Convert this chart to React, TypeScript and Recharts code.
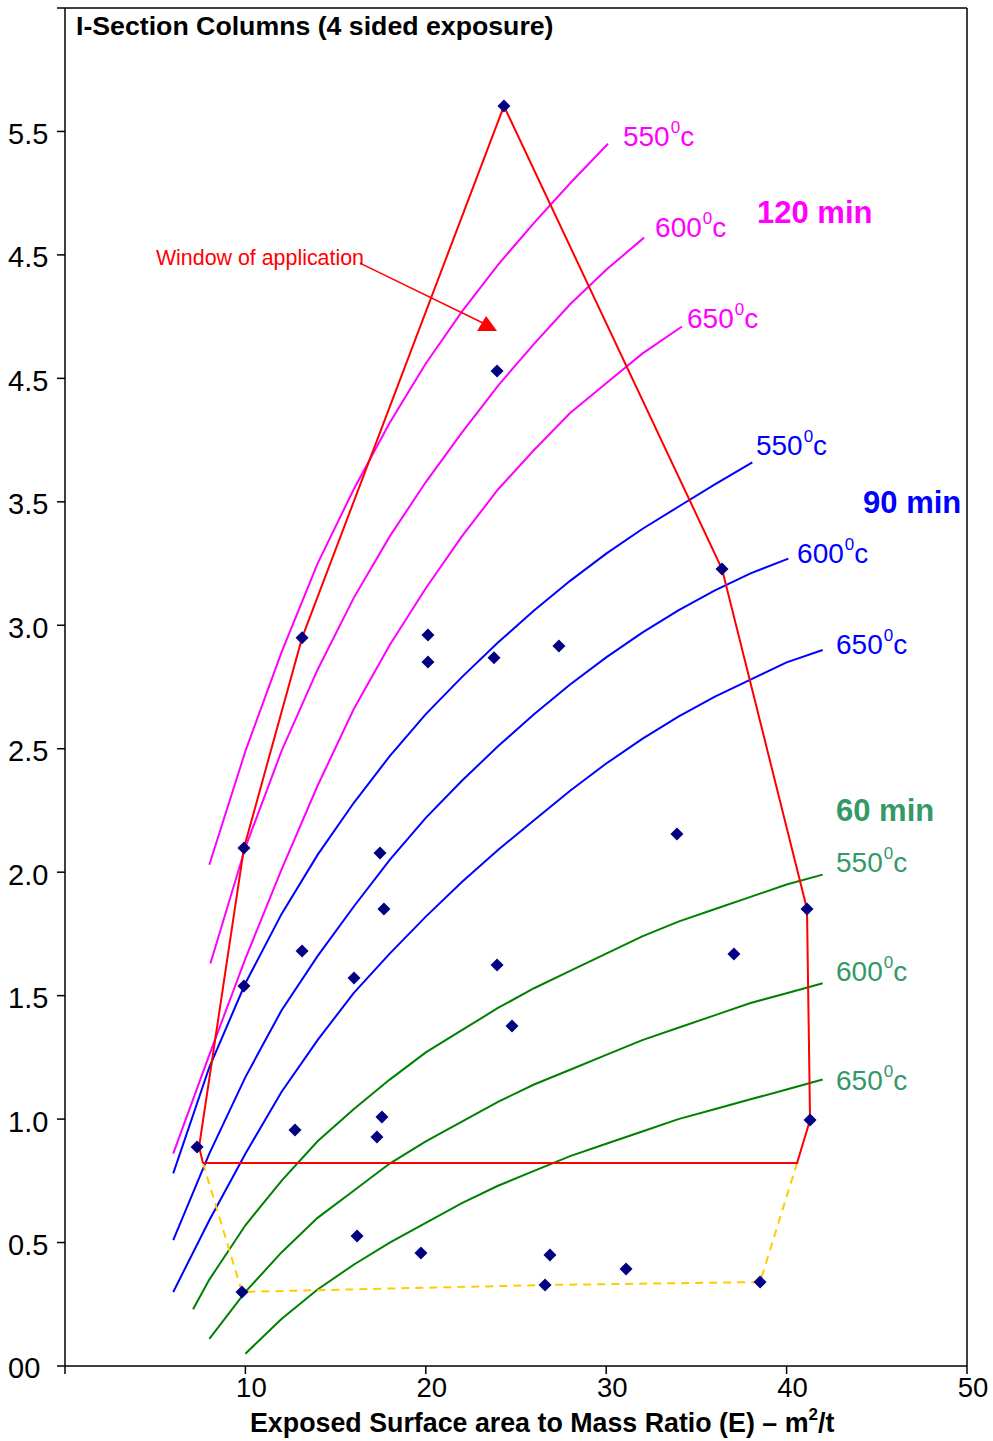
import React from 'react';
import { ScatterChart, Scatter, XAxis, YAxis, ReferenceLine } from 'recharts';

type Pt = { x: number; y: number };

// measured columns (navy diamonds)
const testPoints: Pt[] = [
  { x: 7.32, y: 0.887 }, { x: 9.92, y: 2.098 }, { x: 9.92, y: 1.539 }, { x: 9.81, y: 0.3 },
  { x: 13.14, y: 2.949 }, { x: 13.14, y: 1.681 }, { x: 12.75, y: 0.956 }, { x: 16.19, y: 0.527 },
  { x: 16.02, y: 1.571 }, { x: 17.46, y: 2.078 }, { x: 17.68, y: 1.851 }, { x: 17.57, y: 1.008 },
  { x: 17.29, y: 0.927 }, { x: 19.73, y: 0.458 }, { x: 20.12, y: 2.961 }, { x: 20.12, y: 2.851 },
  { x: 23.78, y: 2.868 }, { x: 24.33, y: 5.103 }, { x: 23.95, y: 4.03 }, { x: 23.95, y: 1.624 },
  { x: 24.78, y: 1.377 }, { x: 27.38, y: 2.916 }, { x: 26.88, y: 0.45 }, { x: 26.61, y: 0.328 },
  { x: 31.1, y: 0.393 }, { x: 33.92, y: 2.155 }, { x: 36.42, y: 3.228 }, { x: 37.08, y: 1.669 },
  { x: 38.53, y: 0.34 }, { x: 41.13, y: 1.851 }, { x: 41.3, y: 0.996 },
];

// window of application (closed outline)
const windowOutline: Pt[] = [
  { x: 7.65, y: 0.822 }, { x: 7.43, y: 0.887 }, { x: 9.92, y: 2.098 }, { x: 13.14, y: 2.949 },
  { x: 24.33, y: 5.103 }, { x: 36.42, y: 3.228 }, { x: 41.13, y: 1.851 }, { x: 41.3, y: 0.996 },
  { x: 40.58, y: 0.822 }, { x: 7.65, y: 0.822 },
];

const lowerBound: Pt[] = [
  { x: 7.65, y: 0.822 }, { x: 9.81, y: 0.3 }, { x: 26.61, y: 0.328 }, { x: 38.53, y: 0.34 }, { x: 40.58, y: 0.822 },
];

// 120 min curves
const m550: Pt[] = [
  { x: 8, y: 2.03 }, { x: 10, y: 2.49 }, { x: 12, y: 2.89 }, { x: 14, y: 3.25 }, { x: 16, y: 3.55 },
  { x: 18, y: 3.82 }, { x: 20, y: 4.06 }, { x: 22, y: 4.27 }, { x: 24, y: 4.46 }, { x: 26, y: 4.63 },
  { x: 28, y: 4.79 }, { x: 30.1, y: 4.95 },
];
const m600: Pt[] = [
  { x: 8.06, y: 1.63 }, { x: 10, y: 2.1 }, { x: 12, y: 2.49 }, { x: 14, y: 2.82 }, { x: 16, y: 3.11 },
  { x: 18, y: 3.36 }, { x: 20, y: 3.58 }, { x: 22, y: 3.78 }, { x: 24, y: 3.97 }, { x: 26, y: 4.14 },
  { x: 28, y: 4.3 }, { x: 30, y: 4.44 }, { x: 32.1, y: 4.57 },
];
const m650: Pt[] = [
  { x: 6, y: 0.86 }, { x: 8, y: 1.26 }, { x: 10, y: 1.65 }, { x: 12, y: 2.01 }, { x: 14, y: 2.35 },
  { x: 16, y: 2.66 }, { x: 18, y: 2.92 }, { x: 20, y: 3.15 }, { x: 22, y: 3.36 }, { x: 24, y: 3.55 },
  { x: 26, y: 3.71 }, { x: 28, y: 3.86 }, { x: 30, y: 3.98 }, { x: 32, y: 4.1 }, { x: 34.2, y: 4.21 },
];

// 90 min curves
const b550: Pt[] = [
  { x: 6, y: 0.78 }, { x: 8, y: 1.21 }, { x: 10, y: 1.55 }, { x: 12, y: 1.83 }, { x: 14, y: 2.07 },
  { x: 16, y: 2.28 }, { x: 18, y: 2.47 }, { x: 20, y: 2.64 }, { x: 22, y: 2.79 }, { x: 24, y: 2.93 },
  { x: 26, y: 3.06 }, { x: 28, y: 3.18 }, { x: 30, y: 3.29 }, { x: 32, y: 3.39 }, { x: 34, y: 3.48 },
  { x: 36, y: 3.57 }, { x: 38.1, y: 3.66 },
];
const b600: Pt[] = [
  { x: 6, y: 0.51 }, { x: 8, y: 0.86 }, { x: 10, y: 1.17 }, { x: 12, y: 1.44 }, { x: 14, y: 1.66 },
  { x: 16, y: 1.86 }, { x: 18, y: 2.05 }, { x: 20, y: 2.22 }, { x: 22, y: 2.37 }, { x: 24, y: 2.51 },
  { x: 26, y: 2.64 }, { x: 28, y: 2.76 }, { x: 30, y: 2.87 }, { x: 32, y: 2.97 }, { x: 34, y: 3.06 },
  { x: 36, y: 3.14 }, { x: 38, y: 3.21 }, { x: 40.1, y: 3.27 },
];
const b650: Pt[] = [
  { x: 6, y: 0.3 }, { x: 8, y: 0.59 }, { x: 10, y: 0.86 }, { x: 12, y: 1.11 }, { x: 14, y: 1.32 },
  { x: 16, y: 1.51 }, { x: 18, y: 1.67 }, { x: 20, y: 1.82 }, { x: 22, y: 1.96 }, { x: 24, y: 2.09 },
  { x: 26, y: 2.21 }, { x: 28, y: 2.33 }, { x: 30, y: 2.44 }, { x: 32, y: 2.54 }, { x: 34, y: 2.63 },
  { x: 36, y: 2.71 }, { x: 38, y: 2.78 }, { x: 40, y: 2.85 }, { x: 42, y: 2.9 },
];

// 60 min curves
const g550: Pt[] = [
  { x: 7.1, y: 0.23 }, { x: 8, y: 0.35 }, { x: 10, y: 0.57 }, { x: 12, y: 0.75 }, { x: 14, y: 0.91 },
  { x: 16, y: 1.04 }, { x: 18, y: 1.16 }, { x: 20, y: 1.27 }, { x: 22, y: 1.36 }, { x: 24, y: 1.45 },
  { x: 26, y: 1.53 }, { x: 28, y: 1.6 }, { x: 30, y: 1.67 }, { x: 32, y: 1.74 }, { x: 34, y: 1.8 },
  { x: 36, y: 1.85 }, { x: 38, y: 1.9 }, { x: 40, y: 1.95 }, { x: 42, y: 1.99 },
];
const g600: Pt[] = [
  { x: 8, y: 0.11 }, { x: 10, y: 0.3 }, { x: 12, y: 0.46 }, { x: 14, y: 0.6 }, { x: 16, y: 0.71 },
  { x: 18, y: 0.82 }, { x: 20, y: 0.91 }, { x: 22, y: 0.99 }, { x: 24, y: 1.07 }, { x: 26, y: 1.14 },
  { x: 28, y: 1.2 }, { x: 30, y: 1.26 }, { x: 32, y: 1.32 }, { x: 34, y: 1.37 }, { x: 36, y: 1.42 },
  { x: 38, y: 1.47 }, { x: 40, y: 1.51 }, { x: 42, y: 1.55 },
];
const g650: Pt[] = [
  { x: 10, y: 0.05 }, { x: 12, y: 0.19 }, { x: 14, y: 0.31 }, { x: 16, y: 0.41 }, { x: 18, y: 0.5 },
  { x: 20, y: 0.58 }, { x: 22, y: 0.66 }, { x: 24, y: 0.73 }, { x: 26, y: 0.79 }, { x: 28, y: 0.85 },
  { x: 30, y: 0.9 }, { x: 32, y: 0.95 }, { x: 34, y: 1.0 }, { x: 36, y: 1.04 }, { x: 38, y: 1.08 },
  { x: 40, y: 1.12 }, { x: 42, y: 1.16 },
];

const arrowLine: Pt[] = [{ x: 16.35, y: 4.467 }, { x: 23.28, y: 4.22 }];
const arrowTip: Pt[] = [{ x: 23.95, y: 4.192 }];

const xTicks = [0, 10, 20, 30, 40, 50];
const xTickLabels = ['', '10', '20', '30', '40', '50'];
const yTicks = [0, 0.5, 1, 1.5, 2, 2.5, 3, 3.5, 4, 4.5, 5, 5.5];
const yTickLabels = ['00', '0.5', '1.0', '1.5', '2.0', '2.5', '3.0', '3.5', '4.5', '4.5', '5.5', ''];

const MAGENTA = '#FF00FF';
const BLUE = '#0000FF';
const GREEN = '#008000';
const GREEN_TEXT = '#339966';

const curveLabels = [
  { x: 30.93, y: 4.941, temp: '550', color: MAGENTA },
  { x: 32.71, y: 4.573, temp: '600', color: MAGENTA },
  { x: 34.48, y: 4.205, temp: '650', color: MAGENTA },
  { x: 38.3, y: 3.69, temp: '550', color: BLUE },
  { x: 40.58, y: 3.252, temp: '600', color: BLUE },
  { x: 42.74, y: 2.884, temp: '650', color: BLUE },
  { x: 42.74, y: 2.001, temp: '550', color: GREEN_TEXT },
  { x: 42.74, y: 1.559, temp: '600', color: GREEN_TEXT },
  { x: 42.74, y: 1.118, temp: '650', color: GREEN_TEXT },
];

const plainLabels = [
  { x: 38.36, y: 4.629, text: '120 min', color: MAGENTA, size: 31, bold: true },
  { x: 44.24, y: 3.455, text: '90 min', color: BLUE, size: 31, bold: true },
  { x: 42.74, y: 2.207, text: '60 min', color: GREEN_TEXT, size: 31, bold: true },
  { x: 5.04, y: 4.459, text: 'Window of application', color: '#FF0000', size: 21.4, bold: false },
  { x: 0.61, y: 5.391, text: 'I-Section Columns (4 sided exposure)', color: '#000000', size: 26.7, bold: true },
];

const FONT = '"Liberation Sans", Arial, sans-serif';

const noDot = () => <g />;

const Diamond = (props: any) => {
  const { cx, cy } = props;
  const r = 6.5;
  return (
    <polygon
      points={`${cx},${cy - r} ${cx + r},${cy} ${cx},${cy + r} ${cx - r},${cy}`}
      fill="#000080"
    />
  );
};

const ArrowHead = (props: any) => {
  const { cx, cy } = props;
  return <polygon points={`${cx},${cy} ${cx - 20},${cy} ${cx - 11},${cy - 15}`} fill="#FF0000" />;
};

const TempLabel = (props: any) => {
  const { cx, cy, payload } = props;
  return (
    <text x={cx} y={cy} fill={payload.color} fontSize={28} fontFamily={FONT}>
      {payload.temp}
      <tspan fontSize={17} dx={1} dy={-13}>0</tspan>
      <tspan dy={13}>c</tspan>
    </text>
  );
};

const PlainLabel = (props: any) => {
  const { cx, cy, payload } = props;
  return (
    <text
      x={cx}
      y={cy}
      fill={payload.color}
      fontSize={payload.size}
      fontWeight={payload.bold ? 'bold' : 'normal'}
      fontFamily={FONT}
    >
      {payload.text}
    </text>
  );
};

const XTick = (props: any) => {
  const { x, y, payload } = props;
  const i = xTicks.indexOf(payload.value);
  return (
    <text x={x + 6} y={y} dy="0.71em" textAnchor="middle" fontSize={27.5} fontFamily={FONT} fill="#000">
      {xTickLabels[i]}
    </text>
  );
};

const YTick = (props: any) => {
  const { y, payload } = props;
  const i = yTicks.indexOf(payload.value);
  return (
    <text x={8} y={y + 2} dy="0.36em" textAnchor="start" fontSize={29} fontFamily={FONT} fill="#000">
      {yTickLabels[i]}
    </text>
  );
};

const XTitle = (props: any) => {
  const { viewBox } = props;
  return (
    <text x={250} y={viewBox.y + 66} fontSize={26.8} fontWeight="bold" fontFamily={FONT} fill="#000">
      Exposed Surface area to Mass Ratio (E) – m
      <tspan fontSize={17} dy={-12}>2</tspan>
      <tspan dy={12}>/t</tspan>
    </text>
  );
};

const curves = [
  { data: m550, color: MAGENTA },
  { data: m600, color: MAGENTA },
  { data: m650, color: MAGENTA },
  { data: b550, color: BLUE },
  { data: b600, color: BLUE },
  { data: b650, color: BLUE },
  { data: g550, color: GREEN },
  { data: g600, color: GREEN },
  { data: g650, color: GREEN },
];

export default function App() {
  return (
    <div style={{ position: 'absolute', left: 0, top: 0, background: '#fff' }}>
      <ScatterChart width={993} height={1441} margin={{ top: 8, right: 26, left: 0, bottom: 0 }}>
        <XAxis
          type="number"
          dataKey="x"
          domain={[0, 50]}
          ticks={xTicks}
          tick={<XTick />}
          tickSize={8}
          tickMargin={3}
          height={75}
          stroke="#000"
          strokeWidth={1.5}
          label={<XTitle />}
        />
        <YAxis
          type="number"
          dataKey="y"
          domain={[0, 5.5]}
          ticks={yTicks}
          tick={<YTick />}
          tickSize={8}
          tickMargin={7}
          width={65}
          stroke="#000"
          strokeWidth={1.5}
        />
        <ReferenceLine x={50} stroke="#000" strokeWidth={1.5} />
        <ReferenceLine y={5.5} stroke="#000" strokeWidth={1.5} />

        {curves.map((c, i) => (
          <Scatter
            key={i}
            data={c.data}
            line={{ stroke: c.color, strokeWidth: 2 }}
            lineType="joint"
            shape={noDot}
            isAnimationActive={false}
          />
        ))}

        <Scatter
          data={lowerBound}
          line={{ stroke: '#FFCC00', strokeWidth: 2, strokeDasharray: '8 6' }}
          lineType="joint"
          shape={noDot}
          isAnimationActive={false}
        />
        <Scatter
          data={windowOutline}
          line={{ stroke: '#FF0000', strokeWidth: 2 }}
          lineType="joint"
          shape={noDot}
          isAnimationActive={false}
        />
        <Scatter
          data={arrowLine}
          line={{ stroke: '#FF0000', strokeWidth: 1.5 }}
          lineType="joint"
          shape={noDot}
          isAnimationActive={false}
        />
        <Scatter data={arrowTip} shape={ArrowHead} isAnimationActive={false} />
        <Scatter data={testPoints} shape={Diamond} isAnimationActive={false} />
        <Scatter data={curveLabels} shape={TempLabel} isAnimationActive={false} />
        <Scatter data={plainLabels} shape={PlainLabel} isAnimationActive={false} />
      </ScatterChart>
    </div>
  );
}
